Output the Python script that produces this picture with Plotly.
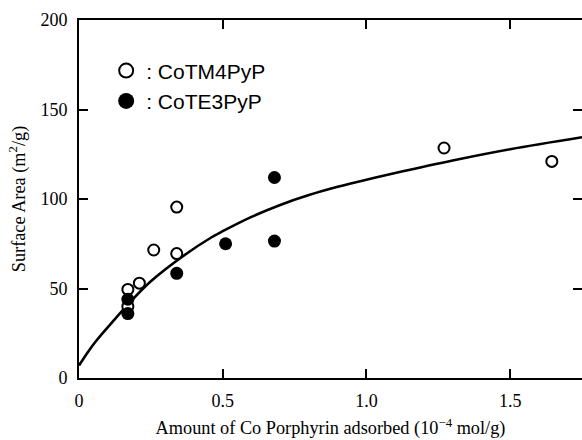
import plotly.graph_objects as go

# Surface area vs. amount of adsorbed cobalt porphyrin
tm4_x = [0.17, 0.17, 0.21, 0.26, 0.34, 0.34, 1.27, 1.645]
tm4_y = [49.5, 40, 53, 71.5, 95.5, 69.5, 128.5, 121]

te3_x = [0.17, 0.17, 0.34, 0.51, 0.68, 0.68]
te3_y = [44, 36, 58.5, 75, 112, 76.5]

# Trend curve through the data
curve_x = [0, 0.03, 0.06, 0.12, 0.17, 0.25, 0.37, 0.46, 0.5, 0.6, 0.7, 0.8,
           0.9, 1.0, 1.1, 1.3, 1.5, 1.75]
curve_y = [7, 14.3, 20.8, 32, 41, 54, 69, 78.5, 82, 90, 96.7, 102.2,
           106.8, 110.8, 114.5, 121.5, 127.8, 134.5]

x_ticks = [0, 0.5, 1.0, 1.5]
x_tick_labels = ["0", "0.5", "1.0", "1.5"]
y_ticks = [0, 50, 100, 150, 200]

serif = "Liberation Serif, Times New Roman, serif"
sans = "Liberation Sans, Arial, sans-serif"

fig = go.Figure()

fig.add_trace(go.Scatter(
    x=curve_x, y=curve_y, mode="lines",
    line=dict(color="black", width=2.6, shape="spline", smoothing=1.0),
    showlegend=False, hoverinfo="skip",
))

fig.add_trace(go.Scatter(
    x=tm4_x, y=tm4_y, mode="markers", name=": CoTM4PyP",
    marker=dict(symbol="circle", size=11, color="white",
                line=dict(color="black", width=2)),
    showlegend=False,
))

fig.add_trace(go.Scatter(
    x=te3_x, y=te3_y, mode="markers", name=": CoTE3PyP",
    marker=dict(symbol="circle", size=13, color="black",
                line=dict(width=0)),
    showlegend=False,
))

# legend keys (slightly larger symbols than the data markers)
fig.add_trace(go.Scatter(
    x=[None], y=[None], mode="markers", name=": CoTM4PyP",
    marker=dict(symbol="circle", size=14, color="white",
                line=dict(color="black", width=2)),
    legendgroup="a",
))
fig.add_trace(go.Scatter(
    x=[None], y=[None], mode="markers", name=": CoTE3PyP",
    marker=dict(symbol="circle", size=16, color="black",
                line=dict(width=0)),
    legendgroup="b",
))

# carrier for the right-hand tick marks
fig.add_trace(go.Scatter(
    x=[None], y=[None], yaxis="y2", showlegend=False, hoverinfo="skip",
))

fig.update_layout(
    width=582, height=440,
    margin=dict(l=79, r=0, t=20, b=62),
    paper_bgcolor="white", plot_bgcolor="white",
    font=dict(family=serif, size=18, color="black"),
    xaxis=dict(
        range=[0, 1.75], tickvals=x_ticks, ticktext=x_tick_labels,
        ticks="inside", ticklen=9, tickwidth=2, tickcolor="black",
        showline=True, linewidth=2, linecolor="black", mirror="ticks",
        showgrid=False, zeroline=False,
        tickfont=dict(family=serif, size=18),
        ticklabelstandoff=5,
        title=dict(text="Amount of Co Porphyrin adsorbed (10<sup>\u22124</sup> mol/g)",
                   font=dict(family=serif, size=18.3), standoff=12),
    ),
    yaxis=dict(
        range=[0, 200], tickvals=y_ticks,
        ticks="inside", ticklen=9, tickwidth=2, tickcolor="black",
        showline=True, linewidth=2, linecolor="black", mirror=False,
        showgrid=False, zeroline=False,
        tickfont=dict(family=serif, size=18),
        ticklabelstandoff=6,
        title=dict(text="Surface Area (m<sup>2</sup>/g)",
                   font=dict(family=serif, size=18.3), standoff=10),
    ),
    yaxis2=dict(
        overlaying="y", side="right", matches="y", range=[0, 200],
        tickvals=y_ticks, ticks="inside", ticklen=9, tickwidth=2,
        tickcolor="black", showticklabels=False, showline=False,
        showgrid=False, zeroline=False,
    ),
    legend=dict(
        x=0.054, y=0.915, xanchor="left", yanchor="top",
        font=dict(family=sans, size=21), bgcolor="rgba(0,0,0,0)",
        traceorder="grouped", tracegroupgap=0, borderwidth=0,
    ),
)

fig.write_html("out.html")
